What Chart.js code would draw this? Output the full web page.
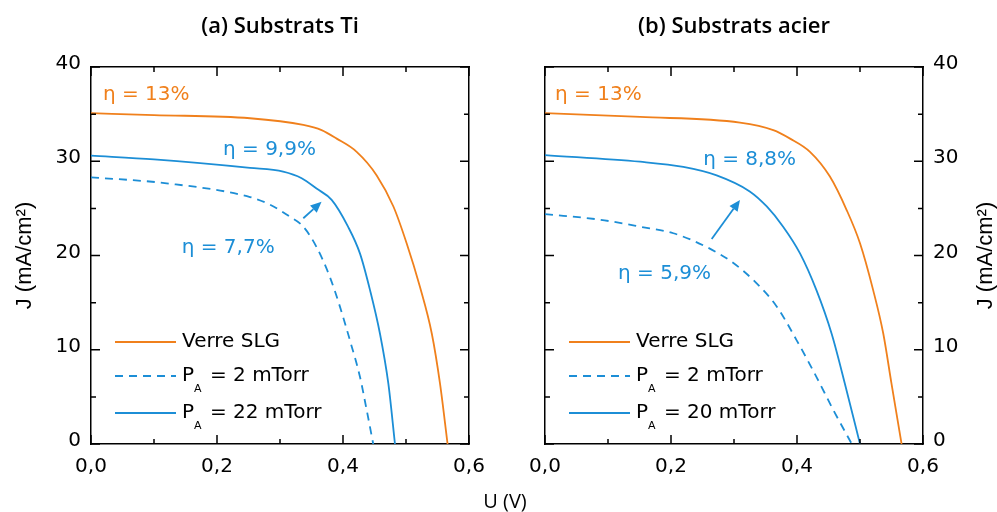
<!DOCTYPE html>
<html>
<head>
<meta charset="utf-8">
<script src="https://cdn.jsdelivr.net/npm/chart.js@4"></script>
<style>
html,body{margin:0;padding:0;background:#fff;width:997px;height:512px;overflow:hidden;}
#wa{position:absolute;left:0;top:0;width:500px;height:512px;}
#wb{position:absolute;left:500px;top:0;width:497px;height:512px;}
#ux{position:absolute;left:445px;width:120px;top:489px;text-align:center;font-family:'Open Sans';font-size:20px;line-height:24px;color:#000;}
</style>
</head>
<body>
<div id="wa"><canvas id="ca"></canvas></div>
<div id="wb"><canvas id="cb"></canvas></div>
<div id="ux">U (V)</div>
<script>
// ---------- data ----------
const titleA = '(a) Substrats Ti';
const titleB = '(b) Substrats acier';
const xAxisTitle = 'U (V)';
const yAxisTitle = 'J (mA/cm²)';
const xTickValues = [0, 0.2, 0.4, 0.6];
const xTickLabels = ['0,0', '0,2', '0,4', '0,6'];
const yTickValues = [0, 10, 20, 30, 40];

// (a) Substrats Ti
const aSlgU = [0, 0.10, 0.2524, 0.337, 0.366, 0.39, 0.4217, 0.4535, 0.48, 0.501, 0.522, 0.541, 0.554, 0.566];
const aSlgJ = [35.1, 34.9, 34.56, 33.85, 33.3, 32.4, 31.0, 28.5, 25.2, 21.3, 16.7, 11.7, 6.4, 0];
const a2U = [0, 0.12, 0.2524, 0.284, 0.316, 0.337, 0.358, 0.379, 0.395, 0.411, 0.427, 0.4376, 0.448];
const a2J = [28.3, 27.66, 26.2, 25.4, 24.1, 23.06, 20.9, 17.75, 14.6, 11.0, 7.1, 3.6, 0];
const a22U = [0, 0.10, 0.2524, 0.305, 0.3344, 0.358, 0.382, 0.408, 0.427, 0.443, 0.4587, 0.472, 0.4825];
const a22J = [30.6, 30.2, 29.3, 28.9, 28.2, 27.1, 25.9, 23.06, 20.2, 16.3, 11.7, 6.4, 0];
const aLabels = ['Verre SLG', 'P_A = 2 mTorr', 'P_A = 22 mTorr'];
const aEta = ['η = 13%', 'η = 9,9%', 'η = 7,7%'];

// (b) Substrats acier
const bSlgU = [0, 0.151, 0.3095, 0.3624, 0.389, 0.4206, 0.452, 0.479, 0.5, 0.521, 0.537, 0.55, 0.566];
const bSlgJ = [35.1, 34.7, 34.1, 33.3, 32.4, 31.0, 28.4, 24.8, 21.3, 16.3, 11.7, 6.4, 0];
const b2U = [0, 0.087, 0.151, 0.2037, 0.2566, 0.299, 0.336, 0.3677, 0.3995, 0.431, 0.4577, 0.487];
const b2J = [24.4, 23.8, 23.06, 22.36, 20.9, 19.2, 17.05, 14.6, 11.0, 7.1, 3.6, 0];
const b20U = [0, 0.151, 0.2196, 0.2725, 0.325, 0.352, 0.378, 0.405, 0.431, 0.455, 0.476, 0.5];
const b20J = [30.66, 29.95, 29.4, 28.5, 26.8, 25.2, 23.06, 20.2, 16.3, 11.7, 6.4, 0];
const bLabels = ['Verre SLG', 'P_A = 2 mTorr', 'P_A = 20 mTorr'];
const bEta = ['η = 13%', 'η = 8,8%', 'η = 5,9%'];

// ---------- styles ----------
const ORANGE = '#F0801C';
const BLUE = '#1C8ED6';
const TICK_FONT = {family: 'DejaVu Sans', size: 20};
const ANN_FONT = '20px "DejaVu Sans"';

function pts(u, j) { return u.map((v, i) => ({x: v, y: j[i]})); }

function ds(label, u, j, color, dash) {
  return {
    label, data: pts(u, j), borderColor: color, backgroundColor: color,
    borderWidth: 1.8, borderDash: dash || [], pointRadius: 0, fill: false,
    cubicInterpolationMode: 'monotone'
  };
}

// plugin: inward ticks, annotations, legend, titles
const decor = {
  id: 'decor',
  afterDatasetsDraw(chart, args, o) {
    const {ctx, chartArea: a, scales} = chart;
    const sx = scales.x, sy = scales.y;
    ctx.save();
    // ticks
    ctx.strokeStyle = '#000'; ctx.lineWidth = 1.5;
    ctx.beginPath();
    for (let i = 0; i <= 6; i++) {
      const p = sx.getPixelForValue(i / 10), L = i % 2 === 0 ? 9 : 5;
      ctx.moveTo(p, a.bottom); ctx.lineTo(p, a.bottom - L);
      ctx.moveTo(p, a.top); ctx.lineTo(p, a.top + L);
    }
    for (let i = 0; i <= 8; i++) {
      const p = sy.getPixelForValue(i * 5), L = i % 2 === 0 ? 9 : 5;
      ctx.moveTo(a.left, p); ctx.lineTo(a.left + L, p);
      ctx.moveTo(a.right, p); ctx.lineTo(a.right - L, p);
    }
    ctx.stroke();
    // annotations
    ctx.font = ANN_FONT; ctx.textBaseline = 'alphabetic'; ctx.textAlign = 'left';
    o.notes.forEach(n => {
      ctx.fillStyle = n.color;
      ctx.fillText(n.text, sx.getPixelForValue(n.x), sy.getPixelForValue(n.y));
    });
    // arrow
    const ar = o.arrow;
    const x1 = sx.getPixelForValue(ar.x1), y1 = sy.getPixelForValue(ar.y1);
    const x2 = sx.getPixelForValue(ar.x2), y2 = sy.getPixelForValue(ar.y2);
    const ang = Math.atan2(y2 - y1, x2 - x1), hl = 11, hw = 5;
    const bx = x2 - hl * Math.cos(ang), by = y2 - hl * Math.sin(ang);
    ctx.strokeStyle = BLUE; ctx.fillStyle = BLUE; ctx.lineWidth = 1.8;
    ctx.beginPath(); ctx.moveTo(x1, y1); ctx.lineTo(bx, by); ctx.stroke();
    ctx.beginPath(); ctx.moveTo(x2, y2);
    ctx.lineTo(bx + hw * Math.sin(ang), by - hw * Math.cos(ang));
    ctx.lineTo(bx - hw * Math.sin(ang), by + hw * Math.cos(ang));
    ctx.closePath(); ctx.fill();
    // legend
    const lx = a.left + 24, ll = 61, rows = [342, 376, 413];
    chart.data.datasets.forEach((d, i) => {
      const y = rows[i];
      ctx.strokeStyle = d.borderColor; ctx.lineWidth = 1.8;
      ctx.setLineDash(d.borderDash);
      ctx.beginPath(); ctx.moveTo(lx, y); ctx.lineTo(lx + ll, y); ctx.stroke();
      ctx.setLineDash([]);
      ctx.fillStyle = '#000'; ctx.font = ANN_FONT; ctx.textBaseline = 'middle'; ctx.textAlign = 'left';
      let tx = lx + ll + 6;
      const lab = d.label;
      if (lab.startsWith('P_A')) {
        ctx.fillText('P', tx, y); tx += ctx.measureText('P').width;
        ctx.font = '11px "DejaVu Sans"'; ctx.textBaseline = 'alphabetic';
        ctx.fillText('A', tx, y + 16); tx += ctx.measureText('A').width + 2;
        ctx.font = ANN_FONT; ctx.textBaseline = 'middle';
        ctx.fillText(lab.slice(3), tx, y);
      } else {
        ctx.fillText(lab, tx, y);
      }
    });
    // chart title
    ctx.fillStyle = '#000'; ctx.font = '600 22px "Open Sans"';
    ctx.textAlign = 'center'; ctx.textBaseline = 'middle';
    ctx.fillText(o.title, (a.left + a.right) / 2, 27);
    // y axis title
    ctx.font = '22px "Liberation Sans"';
    ctx.translate(o.yTitleX, (a.top + a.bottom) / 2);
    ctx.rotate(-Math.PI / 2);
    ctx.fillText(yAxisTitle, 0, 0);
    ctx.restore();
  }
};

function fmtX(v) {
  const k = xTickValues.findIndex(t => Math.abs(t - v) < 1e-6);
  return k >= 0 ? xTickLabels[k] : '';
}

function makeChart(id, datasets, opts) {
  const border = {display: true, color: '#000', width: 1.5};
  const hidden = {display: false, drawTicks: false};
  return new Chart(document.getElementById(id), {
    type: 'line',
    data: {datasets},
    plugins: [decor],
    options: {
      responsive: true, maintainAspectRatio: false, animation: false,
      layout: {padding: 0},
      plugins: {legend: {display: false}, tooltip: {enabled: false}, decor: opts.decor},
      scales: {
        x: {type: 'linear', position: 'bottom', min: 0, max: 0.6,
            ticks: {stepSize: 0.2, callback: fmtX, font: TICK_FONT, color: '#000', padding: 11, maxRotation: 0, autoSkip: false},
            grid: hidden, border, afterFit: s => { s.height = 68; }},
        xt: {type: 'linear', position: 'top', min: 0, max: 0.6, ticks: {display: false}, grid: hidden, border,
            afterFit: s => { s.height = 67; }},
        y: {type: 'linear', position: 'left', min: 0, max: 40,
            ticks: {display: opts.yLabelSide === 'left', stepSize: 10, font: TICK_FONT, color: '#000', padding: 10, labelOffset: -3},
            grid: hidden, border, afterFit: s => { s.width = opts.leftW; }},
        yr: {type: 'linear', position: 'right', min: 0, max: 40,
            ticks: {display: opts.yLabelSide === 'right', stepSize: 10, font: TICK_FONT, color: '#000', padding: 10, labelOffset: -3},
            grid: hidden, border, afterFit: s => { s.width = opts.rightW; }}
      }
    }
  });
}

makeChart('ca', [
  ds(aLabels[0], aSlgU, aSlgJ, ORANGE),
  ds(aLabels[1], a2U, a2J, BLUE, [8, 6]),
  ds(aLabels[2], a22U, a22J, BLUE)
], {
  leftW: 91, rightW: 31, yLabelSide: 'left',
  decor: {
    title: titleA, yTitleX: 25,
    notes: [
      {text: aEta[0], x: 0.019, y: 36.5, color: ORANGE},
      {text: aEta[1], x: 0.2095, y: 30.66, color: BLUE},
      {text: aEta[2], x: 0.144, y: 20.27, color: BLUE}
    ],
    arrow: {x1: 0.337, y1: 23.95, x2: 0.366, y2: 25.7}
  }
});

makeChart('cb', [
  ds(bLabels[0], bSlgU, bSlgJ, ORANGE),
  ds(bLabels[1], b2U, b2J, BLUE, [8, 6]),
  ds(bLabels[2], b20U, b20J, BLUE)
], {
  leftW: 45, rightW: 74, yLabelSide: 'right',
  decor: {
    title: titleB, yTitleX: 486,
    notes: [
      {text: bEta[0], x: 0.016, y: 36.5, color: ORANGE},
      {text: bEta[1], x: 0.251, y: 29.6, color: BLUE},
      {text: bEta[2], x: 0.116, y: 17.5, color: BLUE}
    ],
    arrow: {x1: 0.2646, y1: 21.75, x2: 0.3095, y2: 25.9}
  }
});
</script>
</body>
</html>
